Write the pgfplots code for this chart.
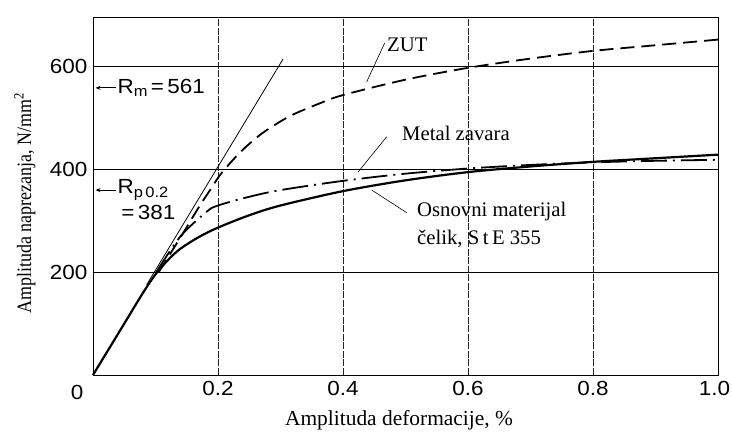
\documentclass[border=0pt]{standalone}
\usepackage{fontspec}
\setmainfont{Liberation Serif}
\newfontfamily\sansA[FakeStretch=1.1]{Liberation Sans}
\newfontfamily\serifC[FakeStretch=0.88]{Liberation Serif}
\usepackage{pgfplots}
\pgfplotsset{compat=1.18}
\usetikzlibrary{arrows.meta}
\begin{document}
\begin{tikzpicture}
\useasboundingbox (0,0) rectangle (732bp,432bp);
\begin{axis}[
  at={(93bp,57bp)}, anchor=south west, scale only axis,
  width=625bp, height=358bp,
  xmin=0, xmax=1, ymin=0, ymax=697,
  xtick={0.2,0.4,0.6,0.8,1.0}, xticklabels={0.2,0.4,0.6,0.8,\hspace*{-7bp}1.0},
  ytick={200,400,600},
  major tick length=0pt,
  tick label style={font=\fontsize{20.5}{24}\selectfont\sansA},
  /pgf/number format/assume math mode=true,
  xticklabel style={yshift=-3bp},
  yticklabel style={xshift=-2bp},
  axis line style={line width=0.9bp},
  xmajorgrids, ymajorgrids,
  x grid style={black!85, line width=0.55bp, dash pattern=on 7bp off 1.5bp},
  y grid style={black, line width=0.7bp},
  clip=false,
]
% elastic line
\addplot[black, line width=0.8bp] coordinates {(0.086,176) (0.304,615)};
% Osnovni materijal
\addplot[black, line width=2.2bp, smooth] coordinates {
(0,0) (0.05,100) (0.08,160) (0.1,196) (0.12,224) (0.14,246) (0.17,269) (0.2,287) (0.25,311) (0.3,330) (0.4,358) (0.5,379) (0.6,395) (0.7,406) (0.8,415) (0.9,422) (1.0,429)};
% ZUT
\addplot[black, line width=1.8bp, smooth, dash pattern=on 14bp off 7bp] coordinates {
(0.105,200) (0.14,268) (0.17,328) (0.19,365) (0.205,392) (0.235,433) (0.27,470) (0.315,504) (0.363,529) (0.4,545) (0.5,575) (0.6,598) (0.7,616) (0.8,631) (0.9,642) (1.0,653)};
% Metal zavara
\addplot[black, line width=1.8bp, smooth, dash pattern=on 26bp off 6bp on 2bp off 6bp] coordinates {
(0.1,198) (0.14,270) (0.182,318) (0.2,330) (0.25,347) (0.3,360) (0.4,378) (0.5,392) (0.6,402) (0.7,409) (0.8,414) (0.9,417) (1.0,419)};
% leaders
\draw[black, line width=0.6bp] (axis cs:0.467,647) -- (axis cs:0.438,571);
\draw[black, line width=0.6bp] (axis cs:0.470,464) -- (axis cs:0.424,395);
\draw[black, line width=0.6bp] (axis cs:0.502,316) -- (axis cs:0.446,360);
% labels
\node[anchor=west, font=\fontsize{20.8}{24}\selectfont, inner sep=0pt] at (axis cs:0.4704,643) {ZUT};
\node[anchor=west, font=\fontsize{20.8}{24}\selectfont, inner sep=0pt] at (axis cs:0.4944,471) {Metal zavara};
\node[anchor=west, font=\fontsize{20.8}{24}\selectfont, inner sep=0pt] at (axis cs:0.5184,318) {Osnovni materijal};
\node[anchor=west, font=\fontsize{20.8}{24}\selectfont, inner sep=0pt] at (axis cs:0.5184,265) {čelik, S\,t\,E 355};
% Rm / Rp
\draw[-{Stealth[length=5bp,width=4bp]}, line width=0.8bp] (axis cs:0.036,559) -- (axis cs:0.004,559);
\node[anchor=west, inner sep=0pt, font=\sansA\fontsize{20.5}{24}\selectfont] at (axis cs:0.039,559) {R\raisebox{-0.35ex}{\fontsize{15}{17}\selectfont m}\,=\,561};
\draw[-{Stealth[length=5bp,width=4bp]}, line width=0.8bp] (axis cs:0.036,360) -- (axis cs:0.004,360);
\node[anchor=west, inner sep=0pt, font=\sansA\fontsize{20.5}{24}\selectfont] at (axis cs:0.039,360) {R\raisebox{-0.35ex}{\fontsize{15}{17}\selectfont p\,0.2}};
\node[anchor=west, inner sep=0pt, font=\sansA\fontsize{20.5}{24}\selectfont] at (axis cs:0.045,316) {=\,381};
% zero label
\node[font=\fontsize{20.5}{24}\selectfont\sansA] at (rel axis cs:-0.0256,-0.05) {0};
% axis labels
\node[rotate=90, font=\serifC\fontsize{20.5}{24}\selectfont] at (rel axis cs:-0.109,0.48) {Amplituda naprezanja, N/mm\textsuperscript{2}};
\node[font=\fontsize{21.5}{24}\selectfont] at (rel axis cs:0.4896,-0.126) {Amplituda deformacije, \%};
\end{axis}
\end{tikzpicture}
\end{document}
